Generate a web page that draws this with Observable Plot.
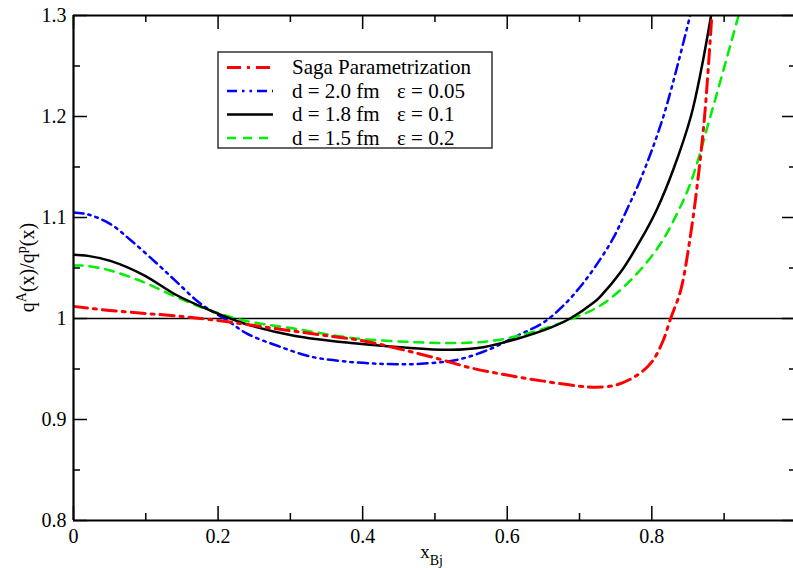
<!DOCTYPE html>
<html>
<head>
<meta charset="utf-8">
<script src="https://cdn.jsdelivr.net/npm/d3@7"></script>
<script src="https://cdn.jsdelivr.net/npm/@observablehq/plot@0.6"></script>
<style>
  html, body { margin: 0; padding: 0; background: #fff; overflow: hidden; }
  svg { display: block; }
</style>
</head>
<body>
<div id="chart"></div>
<script>
// ---- data ----
const sagaX = [0, 0.05, 0.1, 0.15, 0.2, 0.25, 0.3, 0.35, 0.4, 0.45, 0.5, 0.55, 0.6, 0.65, 0.7, 0.72, 0.75, 0.78, 0.8, 0.815, 0.826, 0.84, 0.853, 0.863, 0.873, 0.883];
const sagaY = [1.012, 1.008, 1.005, 1.002, 0.998, 0.993, 0.988, 0.983, 0.978, 0.970, 0.961, 0.951, 0.944, 0.938, 0.933, 0.932, 0.934, 0.944, 0.957, 0.977, 1.0, 1.028, 1.08, 1.133, 1.2, 1.3];

const d20X = [0, 0.02, 0.05, 0.08, 0.116, 0.143, 0.176, 0.213, 0.24, 0.282, 0.33, 0.383, 0.43, 0.475, 0.53, 0.577, 0.614, 0.65, 0.678, 0.705, 0.729, 0.747, 0.765, 0.784, 0.816, 0.853];
const d20Y = [1.105, 1.103, 1.094, 1.077, 1.054, 1.036, 1.0145, 0.998, 0.985, 0.973, 0.962, 0.957, 0.955, 0.955, 0.959, 0.970, 0.983, 0.996, 1.013, 1.035, 1.059, 1.080, 1.107, 1.137, 1.2, 1.3];

const d18X = [0, 0.02, 0.051, 0.097, 0.143, 0.189, 0.236, 0.305, 0.388, 0.452, 0.521, 0.567, 0.614, 0.66, 0.687, 0.72, 0.729, 0.757, 0.784, 0.807, 0.83, 0.854, 0.868, 0.882];
const d18Y = [1.063, 1.062, 1.057, 1.043, 1.023, 1.008, 0.995, 0.983, 0.9755, 0.9716, 0.969, 0.9716, 0.980, 0.991, 1.0, 1.016, 1.022, 1.046, 1.077, 1.108, 1.148, 1.2, 1.245, 1.3];

const d15X = [0, 0.02, 0.051, 0.097, 0.143, 0.189, 0.236, 0.305, 0.388, 0.475, 0.545, 0.59, 0.637, 0.683, 0.729, 0.775, 0.812, 0.835, 0.854, 0.881, 0.92];
const d15Y = [1.0525, 1.052, 1.0475, 1.036, 1.021, 1.008, 0.998, 0.990, 0.9805, 0.9765, 0.976, 0.979, 0.987, 0.998, 1.0129, 1.041, 1.074, 1.104, 1.135, 1.2, 1.3];

const seriesNames = ["Saga Parametrization", "d = 2.0 fm", "d = 1.8 fm", "d = 1.5 fm"];
const seriesEps = ["", "\u03b5 = 0.05", "\u03b5 = 0.1", "\u03b5 = 0.2"];

const xDomain = [0, 0.996];
const yDomain = [0.8, 1.3];
const xMajor = [0, 0.2, 0.4, 0.6, 0.8];
const xMinor = [0.1, 0.3, 0.5, 0.7, 0.9];
const yMajor = [0.8, 0.9, 1, 1.1, 1.2, 1.3];
const yMinor = [0.85, 0.95, 1.05, 1.15, 1.25];
const refLine = [1];

// ---- styles ----
const styles = [
  {stroke: "#ff0000", strokeWidth: 3, dash: "14,6,3,6"},
  {stroke: "#0000ff", strokeWidth: 2.5, dash: "10,5,2.5,5,2.5,5"},
  {stroke: "#000000", strokeWidth: 2.5, dash: null},
  {stroke: "#00ee00", strokeWidth: 2.5, dash: "9,7"}
];

const W = 793, H = 568, mL = 73, mR = 0, mT = 15, mB = 48;
const plotW = W - mL - mR, plotH = H - mT - mB;
const font = "'Liberation Serif', 'Times New Roman', serif";

const seriesData = [
  d3.zip(sagaX, sagaY),
  d3.zip(d20X, d20Y),
  d3.zip(d18X, d18Y),
  d3.zip(d15X, d15Y)
];

const lineMarks = seriesData.map((data, i) => Plot.line(data, {
  x: d => d[0], y: d => d[1],
  stroke: styles[i].stroke, strokeWidth: styles[i].strokeWidth,
  strokeDasharray: styles[i].dash, curve: "catmull-rom", clip: true
}));

const plot = Plot.plot({
  width: W, height: H,
  marginLeft: mL, marginRight: mR, marginTop: mT, marginBottom: mB,
  style: {fontFamily: font, fontSize: "19px", color: "black", background: "white"},
  x: {domain: xDomain},
  y: {domain: yDomain},
  marks: [
    Plot.ruleY(refLine, {y: d => d, stroke: "black", strokeWidth: 1.3}),
    lineMarks[1], lineMarks[3], lineMarks[2], lineMarks[0],
    // inward ticks
    Plot.tickX(xMajor, {x: d => d, insetTop: plotH - 14, stroke: "black", strokeWidth: 1.5}),
    Plot.tickX(xMinor, {x: d => d, insetTop: plotH - 7, stroke: "black", strokeWidth: 1.5}),
    Plot.tickX(xMajor, {x: d => d, insetBottom: plotH - 14, stroke: "black", strokeWidth: 1.5}),
    Plot.tickX(xMinor, {x: d => d, insetBottom: plotH - 7, stroke: "black", strokeWidth: 1.5}),
    Plot.tickY(yMajor, {y: d => d, insetRight: plotW - 14, stroke: "black", strokeWidth: 1.5}),
    Plot.tickY(yMinor, {y: d => d, insetRight: plotW - 7, stroke: "black", strokeWidth: 1.5}),
    Plot.tickY(yMajor, {y: d => d, insetLeft: plotW - 11, stroke: "black", strokeWidth: 1.5}),
    Plot.tickY(yMinor, {y: d => d, insetLeft: plotW - 4, stroke: "black", strokeWidth: 1.5}),
    // frame lines
    Plot.ruleX([xDomain[0]], {x: d => d, stroke: "black", strokeWidth: 2.2}),
    Plot.ruleY([yDomain[0], yDomain[1]], {y: d => d, stroke: "black", strokeWidth: 2.2}),
    // tick labels
    Plot.axisX({ticks: xMajor, tickSize: 0, tickPadding: 8, tickFormat: d => String(d), label: null,
      fontSize: 20, fontFamily: font, fill: "black"}),
    Plot.axisY({ticks: yMajor, tickSize: 0, tickPadding: 7, tickFormat: d => String(d), label: null,
      fontSize: 20, fontFamily: font, fill: "black"})
  ]
});

document.getElementById("chart").appendChild(plot);

const svg = d3.select(plot);
// force the serif face on every text Plot drew
svg.selectAll("text").style("font-family", font).style("font-size", "20px");

// x label: x_Bj
const xl = svg.append("text")
  .attr("x", mL + plotW * 0.498).attr("y", 558)
  .attr("text-anchor", "middle")
  .style("font-family", font).style("font-size", "19px").attr("fill", "black");
xl.append("tspan").text("x");
xl.append("tspan").style("font-size", "14px").attr("dy", 7).text("Bj");

// y label: q^A(x)/q^p(x)
const yl = svg.append("text")
  .attr("transform", `translate(34, ${mT + plotH / 2}) rotate(-90)`)
  .attr("text-anchor", "middle")
  .style("font-family", font).style("font-size", "20px").attr("fill", "black");
yl.append("tspan").text("q");
yl.append("tspan").style("font-size", "14px").attr("dy", -8).text("A");
yl.append("tspan").attr("dy", 8).text("(x)/q");
yl.append("tspan").style("font-size", "14px").attr("dy", -8).text("p");
yl.append("tspan").attr("dy", 8).text("(x)");

// legend
const lg = svg.append("g").attr("text-anchor", "start");
lg.append("rect")
  .attr("x", 218).attr("y", 52).attr("width", 274).attr("height", 96)
  .attr("fill", "white").attr("stroke", "#333").attr("stroke-width", 1.5);
const rowBase = [74, 97.5, 121, 144.5];
seriesNames.forEach((name, i) => {
  const yb = rowBase[i];
  lg.append("line")
    .attr("x1", 227).attr("x2", 273).attr("y1", yb - 6.5).attr("y2", yb - 6.5)
    .attr("stroke", styles[i].stroke).attr("stroke-width", styles[i].strokeWidth)
    .attr("stroke-dasharray", styles[i].dash);
  const t = lg.append("text")
    .attr("x", 292).attr("y", yb)
    .attr("text-anchor", "start")
    .style("font-family", font).style("font-size", "21px").attr("fill", "black");
  t.append("tspan").text(name);
  if (seriesEps[i]) t.append("tspan").attr("x", 397).text(seriesEps[i]);
});
</script>
</body>
</html>
